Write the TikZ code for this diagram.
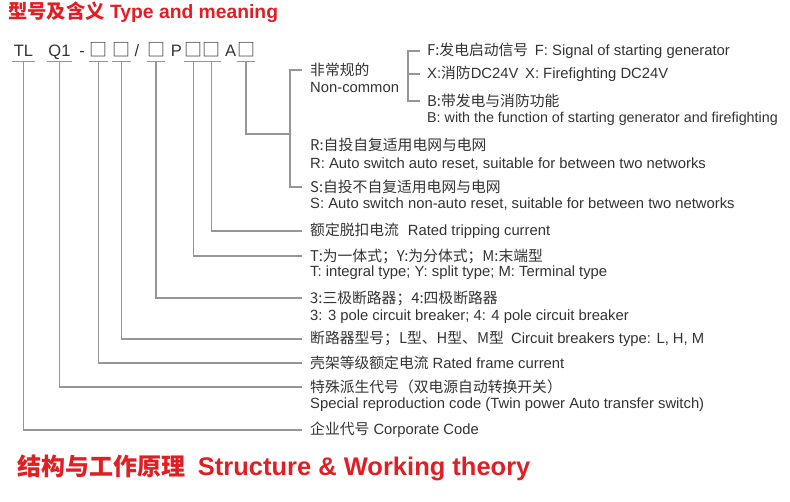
\documentclass[tikz,border=0pt]{standalone}
\usepackage{fontspec}
\setmainfont{Liberation Sans}
\newfontfamily\cjk{Noto Sans CJK SC}
\usepackage{tikz}
\newcommand{\zh}[1]{{\cjk #1}}
\newcommand{\slot}{{\cjk\fontsize{18}{18}\selectfont □}}
\definecolor{titlered}{RGB}{224,30,36}
\definecolor{txtgray}{RGB}{51,51,51}
\definecolor{linegray}{RGB}{150,150,150}

\tikzset{
	desc/.style={anchor=west, inner xsep=8pt, inner ysep=0pt, text=txtgray, font=\fontsize{14.8}{17}\selectfont},
	code/.style={anchor=base, inner sep=0pt, text depth=5pt, text=txtgray, font=\fontsize{16.5}{18}\selectfont},
	heading/.style={anchor=west, inner sep=0pt, text=titlered, font=\bfseries},
	wire/.style={draw=linegray, line width=1.1pt},
}

\begin{document}
\begin{tikzpicture}[x=1pt, y=-1pt]
					\useasboundingbox (0,0) rectangle (790,501);

					\node (title) at (8,12) [heading] {\fontsize{19.3}{21}\selectfont\zh{型号及含义} Type and meaning};

					% the type code
					\node (cTL)    at (23.5,56)  [code, minimum width=23pt] {TL};
					\node (cQ)     at (59.5,56)  [code, minimum width=25pt] {Q1};
					\node (dash)   at (82,56)    [code] {-};
					\node (cFrame) at (98.5,56)  [code, minimum width=15pt] {\slot};
					\node (cType)  at (121.5,56) [code, minimum width=15pt] {\slot};
					\node (slash)  at (137,56)   [code] {/};
					\node (cPole)  at (156,56)   [code, minimum width=15pt] {\slot};
					\node (pChar)  at (176.5,56) [code] {P};
					\node (cInst)  at (193.5,56) [code, minimum width=15pt] {\slot};
					\node (cTrip)  at (211.5,56) [code, minimum width=15pt] {\slot};
					\node (aChar)  at (230.5,56) [code] {A};
					\node (cExtra) at (246,56)   [code, minimum width=15pt] {\slot};

					\draw[wire] (cTL.south west) -- (cTL.south east);
					\draw[wire] (cQ.south west) -- (cQ.south east);
					\draw[wire] (cFrame.south west) -- (cFrame.south east);
					\draw[wire] (cType.south west) -- (cType.south east);
					\draw[wire] (cPole.south west) -- (cPole.south east);
					\draw[wire] (cInst.south west) -- (cInst.south east);
					\draw[wire] (cTrip.south west) -- (cTrip.south east);
					\draw[wire] (cExtra.south west) -- (cExtra.south east);

					% meanings
					\node (nonCommon)   at (302,70)  [desc] {\zh{非常规的}};
					\node (nonCommonEn) at (302,87)  [desc] {Non-common};
					\node (fSig)        at (420,51)  [desc, inner xsep=7pt] {\zh{F:发电启动信号}\hspace{0.45em}F: Signal of starting generator};
					\node (xFire)       at (420,74)  [desc, inner xsep=7pt] {X:\zh{消防}DC24V\hspace{0.45em}X: Firefighting DC24V};
					\node (bBoth)       at (420,101) [desc, inner xsep=7pt] {\zh{B:带发电与消防功能}};
					\node (bBothEn)     at (420,119) [desc, inner xsep=7pt, font=\fontsize{14.3}{17}\selectfont] {B: with the function of starting generator and firefighting};
					\node (rAuto)       at (302,145) [desc] {\zh{R:自投自复适用电网与电网}};
					\node (rAutoEn)     at (302,164) [desc] {R: Auto switch auto reset, suitable for between two networks};
					\node (sAuto)       at (302,187) [desc] {\zh{S:自投不自复适用电网与电网}};
					\node (sAutoEn)     at (302,204) [desc] {S: Auto switch non-auto reset, suitable for between two networks};
					\node (tripCur)     at (302,231) [desc] {\zh{额定脱扣电流}\hspace{0.6em}Rated tripping current};
					\node (instType)    at (302,256) [desc] {\zh{T:为一体式；Y:为分体式；M:末端型}};
					\node (instTypeEn)  at (302,273) [desc] {T: integral type; Y: split type; M: Terminal type};
					\node (poles)       at (302,298) [desc] {\zh{3:三极断路器；4:四极断路器}};
					\node (polesEn)     at (302,317) [desc] {3: 3 pole circuit breaker; 4: 4 pole circuit breaker};
					\node (brkType)     at (302,339) [desc] {\zh{断路器型号；L型、H型、M型}\hspace{0.5em}Circuit breakers type: L, H, M};
					\node (frameCur)    at (302,363) [desc] {\zh{壳架等级额定电流} Rated frame current};
					\node (special)     at (302,387) [desc] {\zh{特殊派生代号（双电源自动转换开关）}};
					\node (specialEn)   at (302,405) [desc] {Special reproduction code (Twin power Auto transfer switch)};
					\node (corp)        at (302,430) [desc] {\zh{企业代号} Corporate Code};

					\coordinate (join) at (290,134);

					% leader lines
					\draw[wire] (cTL.south) |- (corp.west);
					\draw[wire] (cQ.south) |- (special.west);
					\draw[wire] (cFrame.south) |- (frameCur.west);
					\draw[wire] (cType.south) |- (brkType.west);
					\draw[wire] (cPole.south) |- (poles.west);
					\draw[wire] (cInst.south) |- (instType.west);
					\draw[wire] (cTrip.south) |- (tripCur.west);
					\draw[wire] (cExtra.south) |- (join);
					\draw[wire] (nonCommon.west) -- ++(-12,0) |- (sAuto.west);
					\draw[wire] (fSig.west) -- ++(-12,0) |- (bBoth.west);
					\draw[wire] (xFire.west) -- ++(-12,0);

					\node (structTitle) at (17,468) [heading] {\fontsize{25.5}{28}\selectfont\zh{\fontsize{24}{28}\selectfont 结构与工作原理}\hspace{0.5em}Structure \& Working theory};
				\end{tikzpicture}
\end{document}
